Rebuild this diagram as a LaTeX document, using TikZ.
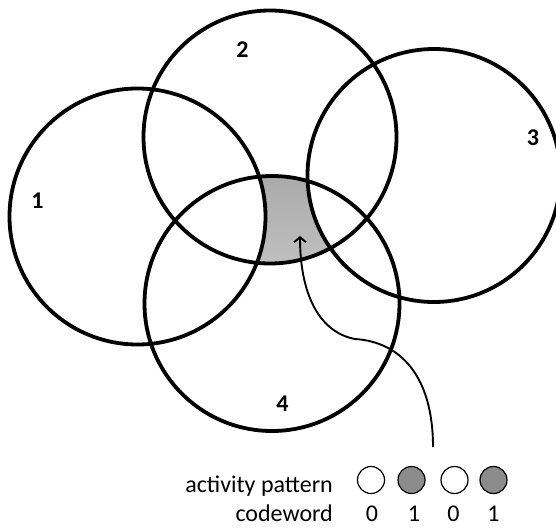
\documentclass[tikz,border=0pt]{standalone}
\usepackage{fontspec}
\setmainfont{Carlito}
\usetikzlibrary{arrows.meta}
\definecolor{shade}{RGB}{140,140,140}
\tikzset{
  bigcirc/.style={draw=black, line width=3.8pt},
  setlabel/.style={font=\fontsize{24}{24}\selectfont\bfseries, inner sep=0pt},
  legendtxt/.style={font=\fontsize{24}{24}\selectfont, inner sep=0pt, anchor=base east},
  bitdigit/.style={font=\fontsize{24}{24}\selectfont, inner sep=0pt, anchor=base},
  dot/.style={circle, draw=black, line width=1.2pt, minimum size=27pt, inner sep=0pt},
  pointer/.style={line width=1.9pt, -{Straight Barb[length=5pt,width=12pt,line width=1.9pt]}}
}
\begin{document}
\begin{tikzpicture}[x=1pt,y=-1pt]
\useasboundingbox (0,0) rectangle (556,527);
\fill[white] (0,0) rectangle (556,527);
% shaded region: inside 2 and 4, outside 1 and 3
\begin{scope}
  \clip (270,137) circle[radius=126.5pt];
  \clip (272,303.5) circle[radius=127.5pt];
  \fill[shade] (0,0) rectangle (556,527);
  \fill[white] (137.5,216.5) circle[radius=128pt];
  \fill[white] (434,175.5) circle[radius=126.5pt];
\end{scope}
% set circles
\draw[bigcirc] (137.5,216.5) circle[radius=128pt];
\draw[bigcirc] (270,137) circle[radius=126.5pt];
\draw[bigcirc] (434,175.5) circle[radius=126.5pt];
\draw[bigcirc] (272,303.5) circle[radius=127.5pt];
% labels
\node[setlabel] (l1) at (37.5,200.5) {1};
\node[setlabel] (l2) at (242.5,50) {2};
\node[setlabel] (l3) at (533,138) {3};
\node[setlabel] (l4) at (282.5,404) {4};
% pointer
\coordinate (pstart) at (433,447);
\coordinate (pmid) at (355,339);
\coordinate (ptip) at (300,236);
\draw[pointer] (pstart) .. controls (433,378) and (402,342) .. (pmid)
  .. controls (318,332) and (300,292) .. (ptip);
% legend
\node[legendtxt] (act) at (333,492) {activity pattern};
\node[legendtxt] (cw) at (333,521) {codeword};
\node[dot, fill=white] (d1) at (371,480) {};
\node[dot, fill=shade] (d2) at (411.5,480) {};
\node[dot, fill=white] (d3) at (454.5,480) {};
\node[dot, fill=shade] (d4) at (493.5,480) {};
\node[bitdigit] (b1) at (372,521) {0};
\node[bitdigit] (b2) at (414,521) {1};
\node[bitdigit] (b3) at (453.5,521) {0};
\node[bitdigit] (b4) at (493.5,521) {1};
\end{tikzpicture}
\end{document}
